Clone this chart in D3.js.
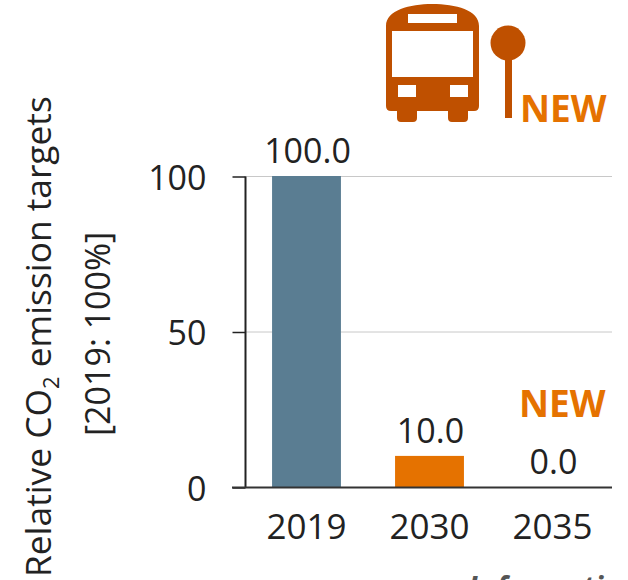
<!DOCTYPE html>
<html>
<head>
<meta charset="utf-8">
<script src="https://d3js.org/d3.v7.min.js"></script>
<style>
html, body { margin: 0; padding: 0; background: #fff; overflow: hidden; }
text { font-family: "Open Sans", "Noto Sans", sans-serif; fill: #222; }
</style>
</head>
<body>
<svg id="chart" width="628" height="580"></svg>
<script>
var years = ["2019", "2030", "2035"];
var targets = [100.0, 10.0, 0.0];
var barColors = ["#5a7d92", "#e57200", "#e57200"];
var yTicks = [0, 50, 100];

var svg = d3.select("svg#chart");

var x = d3.scaleBand().domain(years).range([245, 614]).paddingInner(0.44).paddingOuter(0.22);
var y = d3.scaleLinear().domain([0, 100]).range([487, 176]);

// gridlines
svg.append("g").selectAll("line")
	.data(yTicks.filter(function(d) { return d > 0; }))
	.enter().append("line")
	.attr("x1", 245).attr("x2", 612)
	.attr("y1", function(d) { return y(d) + 0.5; })
	.attr("y2", function(d) { return y(d) + 0.5; })
	.attr("stroke", "#c8c8c8")
	.attr("stroke-width", 1);

// bars
svg.append("g").selectAll("rect")
	.data(targets)
	.enter().append("rect")
	.attr("x", function(d, i) { return x(years[i]); })
	.attr("y", function(d) { return y(d); })
	.attr("width", x.bandwidth())
	.attr("height", function(d) { return y(0) - y(d); })
	.attr("fill", function(d, i) { return barColors[i]; });

// value labels
svg.append("g").selectAll("text")
	.data(targets)
	.enter().append("text")
	.attr("x", function(d, i) { return x(years[i]) + x.bandwidth() / 2 + 1; })
	.attr("y", function(d) { return y(d) - 13; })
	.attr("text-anchor", "middle")
	.style("font-size", "34px")
	.text(function(d) { return d.toFixed(1); });

// y axis
var yAxis = d3.axisLeft(y).tickValues(yTicks).tickSize(13).tickPadding(26).tickFormat(d3.format("d"));
var yG = svg.append("g").attr("transform", "translate(245.5,0.5)").call(yAxis);
yG.selectAll("path").attr("d", "M0," + y(100) + "V" + y(0)).attr("stroke", "#222").attr("stroke-width", 2);
yG.selectAll("line").attr("stroke", "#222").attr("stroke-width", 1.5);
yG.selectAll("text").style("font-size", "34px").style("fill", "#222").attr("font-family", null).attr("dy", "0.38em");

// x axis
var xAxis = d3.axisBottom(x).tickSize(0).tickPadding(27);
var xG = svg.append("g").attr("transform", "translate(0,487.5)").call(xAxis);
xG.select("path").attr("d", "M232,0H612").attr("stroke", "#333").attr("stroke-width", 2);
xG.selectAll("text").style("font-size", "35px").style("fill", "#222").attr("font-family", null);

// axis title
var title = svg.append("text")
	.attr("transform", "translate(51,577) rotate(-90)")
	.style("font-size", "35.3px");
title.append("tspan").text("Relative CO");
title.append("tspan").attr("dy", 8).style("font-size", "22px").text("2");
title.append("tspan").attr("dy", -8).text(" emission targets");

svg.append("text")
	.attr("transform", "translate(110,436) rotate(-90)")
	.style("font-size", "34px")
	.text("[2019: 100%]");

// bus stop icon
var icon = svg.append("g").attr("fill", "#bf5000");
icon.append("path")
	.attr("fill-rule", "evenodd")
	.attr("d", "M386,26 C386,10 410,4 432,4 C456,4 479,10 479,26 V106 Q479,111 474,111 H468 V118 Q468,122 464,122 H452 Q448,122 448,118 V111 H417 V118 Q417,122 413,122 H401 Q397,122 397,118 V111 H391 Q386,111 386,106 Z" +
		"M408,14 H457 V23 H408 Z" +
		"M392,31 H473 V77 H392 Z" +
		"M398,85 H416 V97 H398 Z" +
		"M450,85 H468 V97 H450 Z");
icon.append("circle").attr("cx", 508).attr("cy", 43).attr("r", 17.5);
icon.append("rect").attr("x", 505).attr("y", 55).attr("width", 7).attr("height", 63);

// NEW tags
var newTags = [[520, 122], [519, 417]];
svg.append("g").selectAll("text")
	.data(newTags)
	.enter().append("text")
	.attr("x", function(d) { return d[0]; })
	.attr("y", function(d) { return d[1]; })
	.style("font-size", "37px")
	.style("font-weight", 700)
	.style("fill", "#e57200")
	.text("NEW");

// clipped caption at the very bottom
svg.append("text")
	.attr("x", 468)
	.attr("y", 598)
	.style("font-size", "30px")
	.style("font-weight", 700)
	.style("font-style", "italic")
	.style("fill", "#555")
	.text("Information");
</script>
</body>
</html>
